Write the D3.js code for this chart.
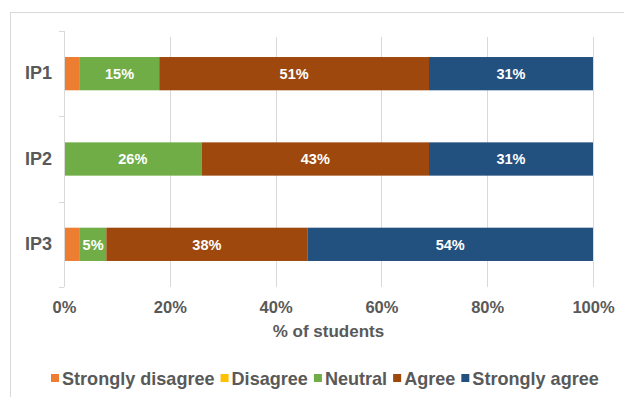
<!DOCTYPE html>
<html>
<head>
<meta charset="utf-8">
<script src="https://cdn.jsdelivr.net/npm/d3@7"></script>
<style>
  html, body { margin: 0; padding: 0; background: #fff; }
  svg { display: block; font-family: "Liberation Sans", Arial, sans-serif; }
</style>
</head>
<body>
<svg id="chart" width="624" height="397"></svg>
<script>
// Survey items and response categories
const items = ["IP1", "IP2", "IP3"];
const responses = ["Strongly disagree", "Disagree", "Neutral", "Agree", "Strongly agree"];
const colors = ["#ed7d31", "#ffc000", "#70ad47", "#9e480e", "#22507f"];

// Percentage of students per response, one array per category (order follows items)
const stronglyDisagree = [3, 0, 3];
const disagree = [0, 0, 0];
const neutral = [15, 26, 5];
const agree = [51, 43, 38];
const stronglyAgree = [31, 31, 54];

const xTicks = [0, 20, 40, 60, 80, 100];
const xTitle = "% of students";

const seriesValues = [stronglyDisagree, disagree, neutral, agree, stronglyAgree];
const rows = items.map((it, i) => {
  const r = { item: it };
  responses.forEach((k, j) => r[k] = seriesValues[j][i]);
  return r;
});
const stacked = d3.stack().keys(responses)(rows);

const svg = d3.select("#chart");
const margin = { left: 64, right: 31, top: 31 };
const W = 624;
const plotBottom = 287;
const textColor = "#595959";

// Chart area frame
svg.append("rect")
  .attr("x", 10.5).attr("y", 12.5)
  .attr("width", 700).attr("height", 500)
  .attr("fill", "none").attr("stroke", "#d9d9d9");

const x = d3.scaleLinear().domain([0, 100]).range([margin.left, W - margin.right]);
const y = d3.scaleBand().domain(items).range([margin.top, plotBottom]).paddingInner(0.61).paddingOuter(0.305);

// Vertical gridlines
svg.append("g").selectAll("line")
  .data(xTicks.slice(1))
  .join("line")
  .attr("x1", d => Math.round(x(d)) + 0.5).attr("x2", d => Math.round(x(d)) + 0.5)
  .attr("y1", 37).attr("y2", plotBottom)
  .attr("stroke", "#d9d9d9").attr("stroke-width", 1);

// Bars
const colorOf = d3.scaleOrdinal().domain(responses).range(colors);
const layer = svg.append("g").selectAll("g")
  .data(stacked)
  .join("g")
  .attr("fill", d => colorOf(d.key));

layer.selectAll("rect")
  .data(d => d.map(v => ({ v, key: d.key })))
  .join("rect")
  .attr("x", d => x(d.v[0]))
  .attr("y", d => y(d.v.data.item))
  .attr("width", d => Math.max(0, x(d.v[1]) - x(d.v[0])))
  .attr("height", y.bandwidth());

// Value labels (only for segments large enough to hold text)
layer.selectAll("text")
  .data(d => d.map(v => ({ v, key: d.key })).filter(d => d.v[1] - d.v[0] >= 5))
  .join("text")
  .attr("x", d => (x(d.v[0]) + x(d.v[1])) / 2)
  .attr("y", d => y(d.v.data.item) + y.bandwidth() / 2)
  .attr("dy", "0.36em")
  .attr("text-anchor", "middle")
  .attr("fill", "#ffffff")
  .attr("font-size", 14.5)
  .attr("font-weight", "bold")
  .text(d => (d.v[1] - d.v[0]) + "%");

// Y axis
const yAxis = d3.axisLeft(y).tickSize(0).tickPadding(12);
const yg = svg.append("g").attr("transform", `translate(${margin.left},0)`).call(yAxis);
yg.select(".domain").attr("stroke", "#d9d9d9").attr("d", `M0.5,${margin.top}V${plotBottom}`);
yg.selectAll("text").attr("fill", textColor).attr("font-size", 18).attr("font-weight", "bold")
  .attr("font-family", "Liberation Sans, Arial, sans-serif");
// Category separator ticks
const bounds = [margin.top, ...items.slice(1).map(it => y(it) - y.step() * y.paddingInner() / 2), plotBottom];
svg.append("g").selectAll("line").data(bounds).join("line")
  .attr("x1", margin.left - 5).attr("x2", margin.left)
  .attr("y1", d => Math.round(d) + 0.5).attr("y2", d => Math.round(d) + 0.5)
  .attr("stroke", "#d9d9d9");

// X axis labels
const xAxis = d3.axisBottom(x).tickValues(xTicks).tickFormat(d => d + "%").tickSize(0).tickPadding(10);
const xg = svg.append("g").attr("transform", `translate(0,${plotBottom + 4})`).call(xAxis);
xg.select(".domain").remove();
xg.selectAll("text").attr("fill", textColor).attr("font-size", 16.5).attr("font-weight", "bold")
  .attr("font-family", "Liberation Sans, Arial, sans-serif");

svg.append("text")
  .attr("x", (x(0) + x(100)) / 2).attr("y", 337)
  .attr("text-anchor", "middle")
  .attr("fill", textColor).attr("font-size", 17).attr("font-weight", "bold")
  .text(xTitle);

// Legend: one row, spread to span the chart width
const legendLeft = 51, legendRight = 599;
const swatch = 8, swatchGap = 3, gap = 6;
const legend = svg.append("g").attr("transform", "translate(0,378)");
const entries = legend.selectAll("g").data(responses).join("g");
entries.append("rect").attr("width", swatch).attr("height", swatch).attr("y", -4)
  .attr("fill", d => colorOf(d));
const labels = entries.append("text").attr("x", swatch + swatchGap).attr("dy", "0.36em")
  .attr("fill", textColor).attr("font-weight", "bold")
  .attr("font-size", 16)
  .text(d => d);
// size the text so the row fills the available width
let textW = 0;
labels.each(function () { textW += this.getComputedTextLength(); });
const fixed = responses.length * (swatch + swatchGap) + gap * (responses.length - 1);
const fs = 16 * ((legendRight - legendLeft) - fixed) / textW;
labels.attr("font-size", fs);
const widths = [];
labels.each(function () { widths.push(swatch + swatchGap + this.getComputedTextLength()); });
let cx = legendLeft;
entries.attr("transform", (d, i) => {
  const t = `translate(${cx},0)`;
  cx += widths[i] + gap;
  return t;
});
</script>
</body>
</html>
